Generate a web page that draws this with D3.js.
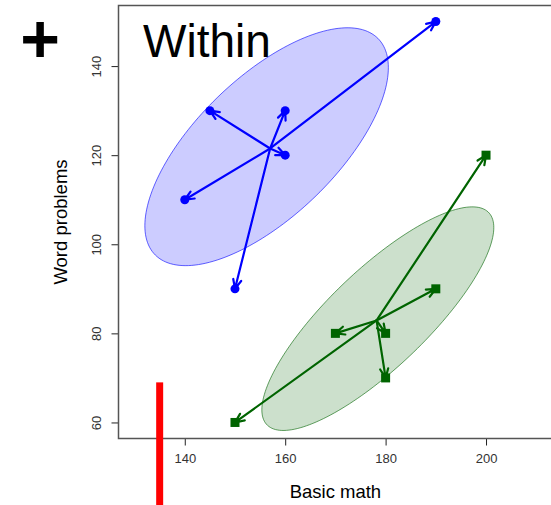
<!DOCTYPE html>
<html>
<head>
<meta charset="utf-8">
<script src="https://cdn.jsdelivr.net/npm/d3@7"></script>
<style>
  html, body { margin: 0; padding: 0; background: #fff; }
  svg { display: block; font-family: Arial, "Liberation Sans", sans-serif; }
</style>
</head>
<body>
<svg id="chart" width="551" height="505"></svg>
<script>
// Scores per student: basic math (x) vs word problems (y)
const blueMath  = [190, 140, 145, 160, 160, 150];
const blueWord  = [150, 110, 130, 130, 120, 90];
const greenMath = [200, 150, 170, 180, 190, 180];
const greenWord = [120, 60, 80, 80, 90, 70];

// Within-group centres the arrows start from
const blueCentre  = [157.0, 121.5];
const greenCentre = [178.2, 82.9];

// Ellipses: centre, half-width (x), half-height (y), correlation
const blueEllipse  = { centre: [156.3, 121.9], halfX: 24.25, halfY: 26.7, r: 0.665 };
const greenEllipse = { centre: [178.45, 83.3], halfX: 23.1, halfY: 25.1, r: 0.815 };

const xTicks = [140, 160, 180, 200];
const yTicks = [60, 80, 100, 120, 140];
const markX = 135, markTop = 69;

const svg = d3.select("#chart");
const plotL = 118.5, plotR = 552.3, plotT = 5.5, plotB = 438.5;

const x = d3.scaleLinear().domain([126.8, 213.2]).range([plotL, plotR]);
const y = d3.scaleLinear().domain([56.4, 153.6]).range([plotB, plotT]);

svg.append("defs").append("clipPath").attr("id", "plotArea")
  .append("rect").attr("x", plotL).attr("y", plotT)
  .attr("width", plotR - plotL).attr("height", plotB - plotT);

const plot = svg.append("g").attr("clip-path", "url(#plotArea)");

function ellipsePoints(e) {
  const phi = Math.acos(e.r);
  return d3.range(0, 361, 2).map(deg => {
    const t = deg * Math.PI / 180;
    return [x(e.centre[0] + e.halfX * Math.cos(t)),
            y(e.centre[1] + e.halfY * Math.cos(t - phi))];
  });
}

const groups = [
  { mx: blueMath, wy: blueWord, centre: blueCentre, ell: blueEllipse,
    col: "#0000ff", fill: "rgba(0,0,255,0.2)", edge: "rgba(0,0,255,0.6)", shape: "circle" },
  { mx: greenMath, wy: greenWord, centre: greenCentre, ell: greenEllipse,
    col: "#006400", fill: "rgba(0,100,0,0.2)", edge: "rgba(0,100,0,0.6)", shape: "square" }
];

// Ellipses
groups.forEach(g => {
  plot.append("path")
    .attr("d", d3.line()(ellipsePoints(g.ell)) + "Z")
    .attr("fill", g.fill)
    .attr("stroke", g.edge)
    .attr("stroke-width", 1);
});

// Arrows from each centre to its points
const headLen = 10, headAng = Math.PI / 7.5;
groups.forEach(g => {
  const cx = x(g.centre[0]), cy = y(g.centre[1]);
  g.mx.forEach((mv, i) => {
    const px = x(mv), py = y(g.wy[i]);
    const a = Math.atan2(py - cy, px - cx);
    const path = d3.path();
    path.moveTo(cx, cy); path.lineTo(px, py);
    path.moveTo(px - headLen * Math.cos(a - headAng), py - headLen * Math.sin(a - headAng));
    path.lineTo(px, py);
    path.lineTo(px - headLen * Math.cos(a + headAng), py - headLen * Math.sin(a + headAng));
    plot.append("path").attr("d", path.toString())
      .attr("fill", "none").attr("stroke", g.col)
      .attr("stroke-width", 2.2).attr("stroke-linecap", "round").attr("stroke-linejoin", "round");
  });
});

// Points
groups.forEach(g => {
  g.mx.forEach((mv, i) => {
    const px = x(mv), py = y(g.wy[i]);
    if (g.shape === "circle") {
      plot.append("circle").attr("cx", px).attr("cy", py).attr("r", 4.5).attr("fill", g.col);
    } else {
      plot.append("rect").attr("x", px - 4.5).attr("y", py - 4.5)
        .attr("width", 9).attr("height", 9).attr("fill", g.col);
    }
  });
});

// Axes
const gx = svg.append("g").attr("transform", `translate(0,${plotB})`)
  .call(d3.axisBottom(x).tickValues(xTicks).tickSize(7).tickSizeOuter(0).tickPadding(8));
const gy = svg.append("g").attr("transform", `translate(${plotL},0)`)
  .call(d3.axisLeft(y).tickValues(yTicks).tickSize(7).tickSizeOuter(0));
[gx, gy].forEach(g => {
  g.select(".domain").remove();
  g.selectAll(".tick line").attr("stroke", "#222");
  g.selectAll(".tick text").attr("fill", "#333").attr("font-size", 13)
    .attr("font-family", "Arial, 'Liberation Sans', sans-serif");
});
gy.selectAll(".tick text")
  .attr("x", null).attr("dy", null)
  .attr("text-anchor", "middle")
  .attr("transform", "translate(-18,0) rotate(-90)");

// Plot frame (left, top, bottom)
svg.append("path")
  .attr("d", `M${plotR},${plotT}H${plotL}V${plotB}H${plotR}`)
  .attr("fill", "none").attr("stroke", "#555").attr("stroke-width", 1.5);

// Axis titles
svg.append("text").attr("x", (plotL + plotR) / 2).attr("y", 498)
  .attr("text-anchor", "middle").attr("font-size", 18.5).attr("fill", "#000")
  .text("Basic math");
svg.append("text").attr("transform", `translate(67,${(plotT + plotB) / 2}) rotate(-90)`)
  .attr("text-anchor", "middle").attr("font-size", 18.5).attr("fill", "#000")
  .text("Word problems");

// Panel title and marker
svg.append("text").attr("x", 143).attr("y", 57)
  .attr("font-size", 46).attr("fill", "#000").text("Within");
svg.append("text").attr("x", 40).attr("y", 62).attr("text-anchor", "middle")
  .attr("font-size", 68).attr("font-weight", "bold").attr("fill", "#000").text("+");

// Red vertical marker
svg.append("line")
  .attr("x1", x(markX)).attr("x2", x(markX))
  .attr("y1", y(markTop)).attr("y2", 505)
  .attr("stroke", "#ff0000").attr("stroke-width", 7);
</script>
</body>
</html>
